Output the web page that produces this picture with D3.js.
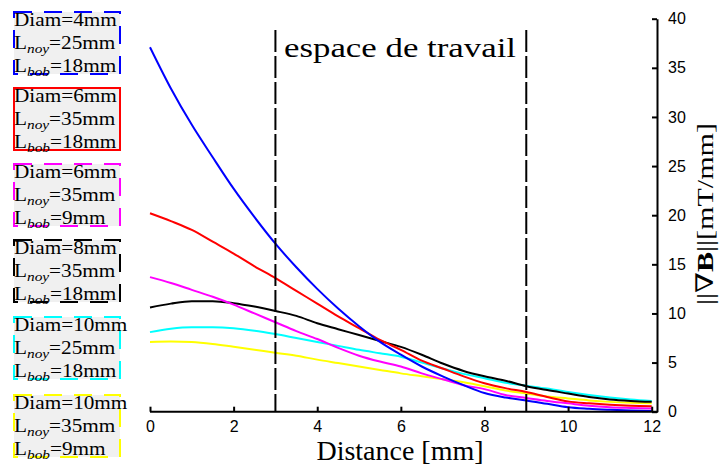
<!DOCTYPE html>
<html>
<head>
<meta charset="utf-8">
<script src="https://cdn.jsdelivr.net/npm/d3@7"></script>
<style>
  body { margin: 0; background: #fff; }
  svg { display: block; }
</style>
</head>
<body>
<div id="chart"></div>
<script>
// gradient magnitude vs distance, six coil configurations

const distances = [0, 0.5, 1, 1.5, 2, 2.5, 3, 3.5, 4, 4.5, 5, 5.5, 6, 6.5, 7, 7.5, 8, 8.5, 9, 9.5, 10, 10.5, 11, 11.5, 12];

const blueVals    = [37.1, 32.9, 29.2, 25.9, 22.7, 19.8, 17.1, 14.7, 12.5, 10.5, 8.7, 7.1, 5.8, 4.6, 3.6, 2.7, 1.9, 1.45, 1.15, 0.8, 0.45, 0.3, 0.2, 0.12, 0.08];
const redVals     = [20.2, 19.4, 18.5, 17.3, 16.1, 14.8, 13.6, 12.3, 11.0, 9.7, 8.5, 7.3, 6.3, 5.2, 4.4, 3.6, 2.9, 2.4, 2.0, 1.5, 1.05, 0.85, 0.7, 0.6, 0.55];
const magentaVals = [13.7, 13.1, 12.4, 11.7, 10.9, 10.0, 9.1, 8.2, 7.4, 6.5, 5.7, 5.1, 4.6, 3.9, 3.3, 2.7, 2.3, 1.7, 1.4, 1.1, 0.85, 0.6, 0.45, 0.38, 0.33];
const blackVals   = [10.6, 11.0, 11.25, 11.25, 11.05, 10.7, 10.25, 9.75, 9.0, 8.4, 7.8, 7.2, 6.6, 5.8, 4.9, 4.15, 3.6, 3.15, 2.6, 2.2, 1.85, 1.5, 1.25, 1.1, 1.0];
const cyanVals    = [8.1, 8.45, 8.6, 8.6, 8.5, 8.25, 7.9, 7.5, 7.1, 6.7, 6.3, 5.95, 5.6, 5.0, 4.4, 3.85, 3.4, 2.95, 2.65, 2.35, 2.0, 1.7, 1.45, 1.25, 1.1];
const yellowVals  = [7.1, 7.15, 7.1, 6.9, 6.6, 6.3, 6.0, 5.7, 5.3, 4.95, 4.6, 4.25, 3.9, 3.6, 3.3, 3.0, 2.6, 2.15, 1.85, 1.55, 1.35, 1.15, 1.0, 0.9, 0.85];

const seriesColors = ["#0000ff", "#ff0000", "#ff00ff", "#000000", "#00ffff", "#ffff00"];
const seriesVals = [blueVals, redVals, magentaVals, blackVals, cyanVals, yellowVals];

// legend labels: diameter, core length, coil length (mm)
const diams = [4, 6, 6, 8, 10, 10];
const lnoy  = [25, 35, 35, 35, 25, 35];
const lbob  = [18, 18, 9, 18, 18, 9];
const legendDashed = [true, false, true, true, true, true];

const xTicks = [0, 2, 4, 6, 8, 10, 12];
const yTicks = [0, 5, 10, 15, 20, 25, 30, 35, 40];
const workZone = [3, 9];

const width = 719, height = 468;
const x0 = 150, x1 = 651.7, yAxisX = 657;
const yTop = 18.7, yBot = 411.7;

const serif = "'Liberation Serif', 'DejaVu Serif', serif";
const sans = "'Liberation Sans', Arial, sans-serif";

let x = d3.scaleLinear().domain([0, 12]).range([x0, x1]);
let y = d3.scaleLinear().domain([0, 40]).range([yBot, yTop]);

let svg = d3.select("#chart").append("svg")
    .attr("width", width)
    .attr("height", height);

// curves
let line = d3.line()
    .x((d, i) => x(distances[i]))
    .y(d => y(d))
    .curve(d3.curveMonotoneX);

// draw yellow first so the order on top matches
let order = [5, 4, 3, 2, 1, 0];
order.forEach(k => {
    svg.append("path")
        .datum(seriesVals[k])
        .attr("d", line)
        .attr("fill", "none")
        .attr("stroke", seriesColors[k])
        .attr("stroke-width", 2);
});

// working zone
workZone.forEach(d => {
    svg.append("line")
        .attr("x1", x(d)).attr("x2", x(d))
        .attr("y1", 30).attr("y2", yBot)
        .attr("stroke", "#000")
        .attr("stroke-width", 2)
        .attr("stroke-dasharray", "22,4");
});

svg.append("text")
    .attr("x", 284)
    .attr("y", 57)
    .attr("font-family", serif)
    .attr("font-size", 28)
    .attr("textLength", 232)
    .attr("lengthAdjust", "spacingAndGlyphs")
    .text("espace de travail");

// x axis
let xAxis = d3.axisBottom(x)
    .tickValues(xTicks)
    .tickSize(-5)
    .tickSizeOuter(0)
    .tickPadding(9);

let gx = svg.append("g")
    .attr("transform", `translate(0,${yBot})`)
    .call(xAxis);
gx.select(".domain").remove();
gx.selectAll("line").attr("stroke", "#000").attr("stroke-width", 2);
gx.selectAll("text").attr("font-family", sans).attr("font-size", 16).attr("fill", "#000");

svg.append("line")
    .attr("x1", x0).attr("x2", yAxisX + 1)
    .attr("y1", yBot).attr("y2", yBot)
    .attr("stroke", "#000").attr("stroke-width", 2);

// y axis on the right
let yAxis = d3.axisRight(y)
    .tickValues(yTicks)
    .tickSize(-5)
    .tickSizeOuter(0)
    .tickPadding(11);

let gy = svg.append("g")
    .attr("transform", `translate(${yAxisX},0)`)
    .call(yAxis);
gy.select(".domain").attr("stroke", "#000").attr("stroke-width", 2);
gy.selectAll("line").attr("stroke", "#000").attr("stroke-width", 2);
gy.selectAll("text").attr("font-family", sans).attr("font-size", 16).attr("fill", "#000");

// axis titles
svg.append("text")
    .attr("x", 400)
    .attr("y", 460)
    .attr("text-anchor", "middle")
    .attr("font-family", serif)
    .attr("font-size", 28)
    .text("Distance [mm]");

let yl = svg.append("text")
    .attr("transform", `translate(713,305) rotate(-90)`)
    .attr("font-family", serif)
    .attr("font-size", 24)
    .attr("textLength", 182)
    .attr("lengthAdjust", "spacingAndGlyphs");
yl.append("tspan").text("||∇");
yl.append("tspan").attr("font-weight", "bold").text("B");
yl.append("tspan").text("||[mT/mm]");

// legend boxes
const boxX = 14, boxW = 106, boxH = 62;
const boxTops = [12, 88, 164, 240, 317, 395];

diams.forEach((dm, i) => {
    let g = svg.append("g").attr("transform", `translate(${boxX},${boxTops[i]})`);
    g.append("rect")
        .attr("width", boxW).attr("height", boxH)
        .attr("fill", "#f0f0f0")
        .attr("stroke", seriesColors[i])
        .attr("stroke-width", 2)
        .attr("stroke-dasharray", legendDashed[i] ? "18,12" : null);

    let lines = [
        ["Diam", null, "=" + dm + "mm"],
        ["L", "noy", "=" + lnoy[i] + "mm"],
        ["L", "bob", "=" + lbob[i] + "mm"]
    ];
    lines.forEach((l, j) => {
        let t = g.append("text")
            .attr("transform", `translate(0,${14 + j * 23}) scale(1.18,1)`)
            .attr("font-family", serif)
            .attr("font-size", 18)
            .attr("fill", "#000");
        t.append("tspan").text(l[0]);
        if (l[1]) {
            t.append("tspan")
                .attr("font-style", "italic")
                .attr("font-size", 13)
                .attr("dy", 4)
                .text(l[1]);
            t.append("tspan").attr("dy", -4).text(l[2]);
        } else {
            t.append("tspan").text(l[2]);
        }
    });
});
</script>
</body>
</html>
